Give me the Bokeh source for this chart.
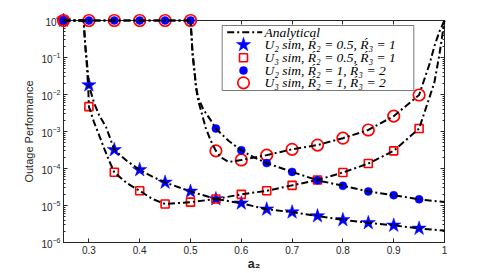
from bokeh.plotting import figure
from bokeh.models import (Range1d, LinearAxis, LogAxis, FixedTicker, LogTicker,
                          LinearScale)
from bokeh.embed import file_html
from bokeh.resources import INLINE
from bokeh.core.properties import value

# ---------------- data ----------------
a2_sim = [0.25, 0.30, 0.35, 0.40, 0.45, 0.50, 0.55, 0.60, 0.65, 0.70,
          0.75, 0.80, 0.85, 0.90, 0.95]

u2_r05_sim = [1.0, 1.8e-2, 3.2e-4, 9.2e-5, 4.2e-5, 2.4e-5, 1.5e-5, 1.15e-5,
              7.9e-6, 6.6e-6, 5.2e-6, 4.1e-6, 3.4e-6, 2.9e-6, 2.4e-6]
u3_r05_sim = [1.0, 4.7e-3, 7.9e-5, 2.5e-5, 1.1e-5, 1.23e-5, 1.5e-5, 2.0e-5,
              2.5e-5, 3.5e-5, 4.9e-5, 7.8e-5, 1.36e-4, 3.0e-4, 1.2e-3]
u2_r1_sim = [1.0, 1.0, 1.0, 1.0, 1.0, 1.0, 1.2e-3, 3.1e-4, 1.4e-4, 8.1e-5,
             4.8e-5, 3.4e-5, 2.4e-5, 1.9e-5, 1.47e-5]
u3_r1_sim = [1.0, 1.0, 1.0, 1.0, 1.0, 1.0, 3.0e-4, 1.7e-4, 2.3e-4, 3.3e-4,
             4.3e-4, 6.6e-4, 1.1e-3, 2.6e-3, 9.7e-3]

# analytical curves
ana_u2_r05_x = [0.25, 0.2895, 0.291, 0.293, 0.296, 0.30, 0.31, 0.32, 0.334, 0.35,
                0.375, 0.40, 0.425, 0.45, 0.50, 0.55, 0.60, 0.65, 0.70, 0.75,
                0.80, 0.85, 0.90, 0.95, 1.0]
ana_u2_r05_y = [1.0, 1.0, 0.5, 0.2, 0.08, 1.8e-2, 6e-3, 2.8e-3, 1.3e-3, 3.2e-4,
                1.6e-4, 9.2e-5, 6.0e-5, 4.2e-5, 2.4e-5, 1.5e-5, 1.15e-5, 7.9e-6,
                6.6e-6, 5.2e-6, 4.1e-6, 3.4e-6, 2.9e-6, 2.4e-6, 2.1e-6]

ana_u3_r05_x = [0.25, 0.2895, 0.291, 0.293, 0.296, 0.299, 0.30, 0.31, 0.32, 0.33,
                0.34, 0.35, 0.375, 0.40, 0.425, 0.45, 0.50, 0.55, 0.60, 0.65,
                0.70, 0.75, 0.80, 0.85, 0.90, 0.95, 0.97, 0.98, 0.99, 1.0]
ana_u3_r05_y = [1.0, 1.0, 0.5, 0.2, 0.06, 0.012, 4.7e-3, 1.8e-3, 8e-4, 3.5e-4,
                1.6e-4, 7.9e-5, 4.0e-5, 2.5e-5, 1.5e-5, 1.1e-5, 1.23e-5, 1.5e-5,
                2.0e-5, 2.5e-5, 3.5e-5, 4.9e-5, 7.8e-5, 1.36e-4, 3.0e-4, 1.2e-3,
                8e-3, 2.1e-2, 0.12, 1.0]

ana_u2_r1_x = [0.25, 0.50, 0.502, 0.504, 0.508, 0.511, 0.515, 0.525, 0.54, 0.55,
               0.575, 0.60, 0.625, 0.65, 0.70, 0.75, 0.80, 0.85, 0.90, 0.95, 1.0]
ana_u2_r1_y = [1.0, 1.0, 0.4, 0.13, 0.04, 0.0155, 8.3e-3, 4e-3, 2e-3, 1.2e-3,
               5.6e-4, 3.1e-4, 2.0e-4, 1.4e-4, 8.1e-5, 4.8e-5, 3.4e-5, 2.4e-5,
               1.9e-5, 1.47e-5, 1.24e-5]

ana_u3_r1_x = [0.25, 0.50, 0.502, 0.504, 0.508, 0.511, 0.515, 0.53, 0.54, 0.55,
               0.56, 0.575, 0.60, 0.65, 0.70, 0.75, 0.80, 0.85, 0.90, 0.95,
               0.96, 0.97, 0.98, 0.99, 1.0]
ana_u3_r1_y = [1.0, 1.0, 0.4, 0.13, 0.04, 0.0155, 7e-3, 1.26e-3, 5.6e-4, 3.0e-4,
               2.0e-4, 1.5e-4, 1.7e-4, 2.3e-4, 3.3e-4, 4.3e-4, 6.6e-4, 1.1e-3,
               2.6e-3, 9.7e-3, 0.025, 0.063, 0.2, 0.5, 1.0]

x_ticks = [0.3, 0.4, 0.5, 0.6, 0.7, 0.8, 0.9, 1.0]
x_tick_labels = {1.0: "1"}

legend_labels = ["Analytical",
                 "U\u2082  sim,  \u0154\u2082 = 0.5,  \u0154\u2083 = 1",
                 "U\u2083  sim,  \u0154\u2082 = 0.5,  \u0154\u2083 = 1",
                 "U\u2082  sim,  \u0154\u2082 = 1,  \u0154\u2083 = 2",
                 "U\u2083  sim,  \u0154\u2082 = 1,  \u0154\u2083 = 2"]

# ---------------- figure ----------------
AX = "#262626"
W, H = 491, 273
ML, MR, MT, MB = 63, 47, 20, 31
FW, FH = W - ML - MR, H - MT - MB

p = figure(width=W, height=H, output_backend="svg", toolbar_location=None,
           x_range=Range1d(0.25, 1.0), y_range=Range1d(1e-6, 1.0),
           y_axis_type="log",
           min_border_left=ML, min_border_right=MR, min_border_top=MT,
           min_border_bottom=MB)
p.outline_line_color = AX
p.grid.visible = False
p.background_fill_color = "white"
p.border_fill_color = "white"

p.extra_x_ranges = {"px": Range1d(0, FW)}
p.extra_y_ranges = {"px": Range1d(0, FH)}
p.extra_x_scales = {"px": LinearScale()}
p.extra_y_scales = {"px": LinearScale()}

xb = p.below[0]
yl = p.left[0]
xa = LinearAxis()
yr = LogAxis()
p.add_layout(xa, "above")
p.add_layout(yr, "right")

for ax in (xb, xa):
    ax.ticker = FixedTicker(ticks=x_ticks)
for ax in (yl, yr):
    ax.ticker = LogTicker(desired_num_ticks=7, num_minor_ticks=10)

for ax in (xb, xa, yl, yr):
    ax.axis_line_color = AX
    ax.major_tick_line_color = AX
    ax.minor_tick_line_color = AX
    ax.major_tick_in = 4
    ax.major_tick_out = 0
    ax.minor_tick_in = 2
    ax.minor_tick_out = 0
    ax.major_label_text_color = AX
    ax.major_label_text_font = "Liberation Sans"
    ax.major_label_text_font_size = "10px"
for ax in (xa, yr):
    ax.major_label_text_color = None
    ax.major_label_standoff = 0
xb.minor_tick_line_color = None
xa.minor_tick_line_color = None
xb.major_label_overrides = x_tick_labels
xb.major_label_standoff = 3
yl.major_label_standoff = 3

yl.axis_label = "Outage Performance"
yl.axis_label_text_font = "Liberation Sans"
yl.axis_label_text_font_style = "normal"
yl.axis_label_text_font_size = "11px"
yl.axis_label_text_color = AX
yl.axis_label_standoff = 3

xb.axis_label = "a\u2082"
xb.axis_label_text_font = "Liberation Sans"
xb.axis_label_text_font_style = "bold"
xb.axis_label_text_font_size = "12.5px"
xb.axis_label_text_color = AX
xb.axis_label_standoff = 0

# ---------------- markers (overlay level so they are not cut at the frame) ----------------
p.scatter(a2_sim, u2_r05_sim, marker="star", size=15, fill_color="#0000ff",
          line_color="#0000ff", line_width=0.5, level="overlay")
p.scatter(a2_sim, u3_r05_sim, marker="square", size=8, fill_color=None,
          line_color="#ff0000", line_width=1.6, level="overlay")
p.scatter(a2_sim, u3_r1_sim, marker="circle", size=11.5, fill_color=None,
          line_color="#ff0000", line_width=1.7, level="overlay")
p.scatter(a2_sim, u2_r1_sim, marker="circle", size=8, fill_color="#0000ff",
          line_color="#0000ff", line_width=0.5, level="overlay")

# ---------------- analytical lines ----------------
DASH = "7 3 2 3"
for xs, ys in ((ana_u2_r05_x, ana_u2_r05_y), (ana_u3_r05_x, ana_u3_r05_y),
               (ana_u2_r1_x, ana_u2_r1_y), (ana_u3_r1_x, ana_u3_r1_y)):
    p.line(xs, ys, line_color="black", line_width=2, line_dash=DASH, level="overlay")

# ---------------- legend (drawn in frame pixel units) ----------------
lg_left, lg_right = 158.7, 350.3
lg_top, lg_bottom = FH - 5, FH - 70
rows = [FH - 11.7, FH - 24.3, FH - 37.3, FH - 50, FH - 62.3]
p.quad(left=[lg_left], right=[lg_right], bottom=[lg_bottom], top=[lg_top],
       fill_color="white", line_color="#555555", line_width=0.8,
       x_range_name="px", y_range_name="px")
p.segment(x0=[163.7], x1=[198.7], y0=[rows[0]], y1=[rows[0]], line_color="black",
          line_width=2, line_dash=DASH, x_range_name="px", y_range_name="px")
mx = 180
p.scatter([mx], [rows[1]], marker="star", size=15, fill_color="#0000ff",
          line_color="#0000ff", line_width=0.5, x_range_name="px", y_range_name="px")
p.scatter([mx], [rows[2]], marker="square", size=8, fill_color=None,
          line_color="#ff0000", line_width=1.6, x_range_name="px", y_range_name="px")
p.scatter([mx], [rows[3]], marker="circle", size=8, fill_color="#0000ff",
          line_color="#0000ff", line_width=0.5, x_range_name="px", y_range_name="px")
p.scatter([mx], [rows[4]], marker="circle", size=11.5, fill_color=None,
          line_color="#ff0000", line_width=1.7, x_range_name="px", y_range_name="px")
p.text(x=[201] * 5, y=rows, text=legend_labels,
       text_font=value("Liberation Serif"), text_font_style="italic",
       text_font_size="13.5px", text_color="black", text_baseline="middle",
       x_range_name="px", y_range_name="px")

open("out.html", "w").write(file_html(p, INLINE))
